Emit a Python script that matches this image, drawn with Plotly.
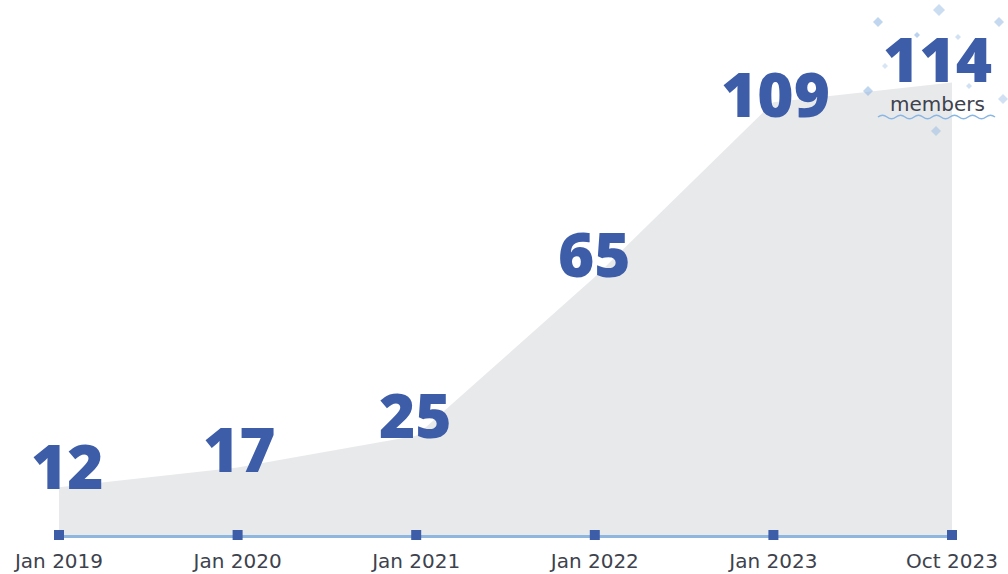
import plotly.graph_objects as go

categories = ["Jan 2019", "Jan 2020", "Jan 2021", "Jan 2022", "Jan 2023", "Oct 2023"]
members = [12, 17, 25, 65, 109, 114]
label_text = ["12", "17", "25", "65", "109", "114"]

BLUE = "#3d5da9"
FILL = "#e8e9eb"
AXIS = "#8fb6de"
GREY = "#3d424d"

W, H = 1008, 574
ML, MR, MT, MB = 59, 56, 19, 39
PW, PH = W - ML - MR, H - MT - MB
YMAX = 130

def px(x):
    return (x - ML) / PW

def py(y):
    return (H - MB - y) / PH

fig = go.Figure()
fig.add_trace(go.Scatter(
    x=categories, y=members, mode="lines", fill="tozeroy",
    fillcolor=FILL, line=dict(width=0, color=FILL), hoverinfo="skip", cliponaxis=False))
fig.add_trace(go.Scatter(
    x=categories, y=[0] * len(categories), mode="markers",
    marker=dict(symbol="square", size=10, color=BLUE), cliponaxis=False, hoverinfo="skip"))

# value labels
offsets = [(8, 22), (2, 20), (-1, 22), (0, 24), (2, 9), (-15, 25)]
for c, v, t, (dx, dy) in zip(categories, members, label_text, offsets):
    fig.add_annotation(x=c, y=v, text=t, showarrow=False, xshift=dx, yshift=dy,
                       xanchor="center", yanchor="middle",
                       font=dict(family="Open Sans", size=62, color=BLUE, weight=800))

fig.add_annotation(x=categories[-1], y=members[-1], text="members", showarrow=False,
                   xshift=-15, yshift=-21, xanchor="center", yanchor="middle",
                   font=dict(family="DejaVu Sans", size=20, color=GREY))

shapes = []
# wavy underline
x0, x1, yw = 878, 993, 117
seg = 9
d = "M %.5f,%.5f" % (px(x0), py(yw))
x = x0
sign = 1
while x < x1:
    cx = x + seg / 2
    nx = x + seg
    d += " Q %.5f,%.5f %.5f,%.5f" % (px(cx), py(yw - 3.5 * sign), px(nx), py(yw))
    x = nx
    sign = -sign
shapes.append(dict(type="path", path=d, xref="paper", yref="paper",
                   line=dict(color="#8ab6e3", width=1.5)))

# confetti diamonds
confetti = [(878, 22, 5, 0.55), (939, 10, 6, 0.45), (999, 22, 5, 0.5), (868, 91, 5, 0.55),
            (1003, 99, 5, 0.4), (936, 131, 5, 0.45), (917, 35, 3, 0.6), (958, 37, 3, 0.4),
            (885, 66, 3, 0.35), (969, 86, 3, 0.4)]
for cx, cy, r, a in confetti:
    p = "M %.5f,%.5f L %.5f,%.5f L %.5f,%.5f L %.5f,%.5f Z" % (
        px(cx), py(cy - r), px(cx + r), py(cy), px(cx), py(cy + r), px(cx - r), py(cy))
    shapes.append(dict(type="path", path=p, xref="paper", yref="paper",
                       fillcolor="rgba(140,180,225,%.2f)" % a, line=dict(width=0)))

fig.update_layout(
    width=W, height=H, margin=dict(l=ML, r=MR, t=MT, b=MB, autoexpand=False),
    paper_bgcolor="white", plot_bgcolor="white", showlegend=False,
    shapes=shapes,
    xaxis=dict(type="category", range=[0, len(categories) - 1], showgrid=False,
               automargin=False, layer="below traces",
               zeroline=False, showline=True, linecolor=AXIS, linewidth=3,
               ticks="outside", ticklen=6, tickcolor="rgba(0,0,0,0)",
               tickfont=dict(family="DejaVu Sans", size=20, color=GREY)),
    yaxis=dict(range=[0, YMAX], visible=False, automargin=False),
)

fig.write_html("out.html")
